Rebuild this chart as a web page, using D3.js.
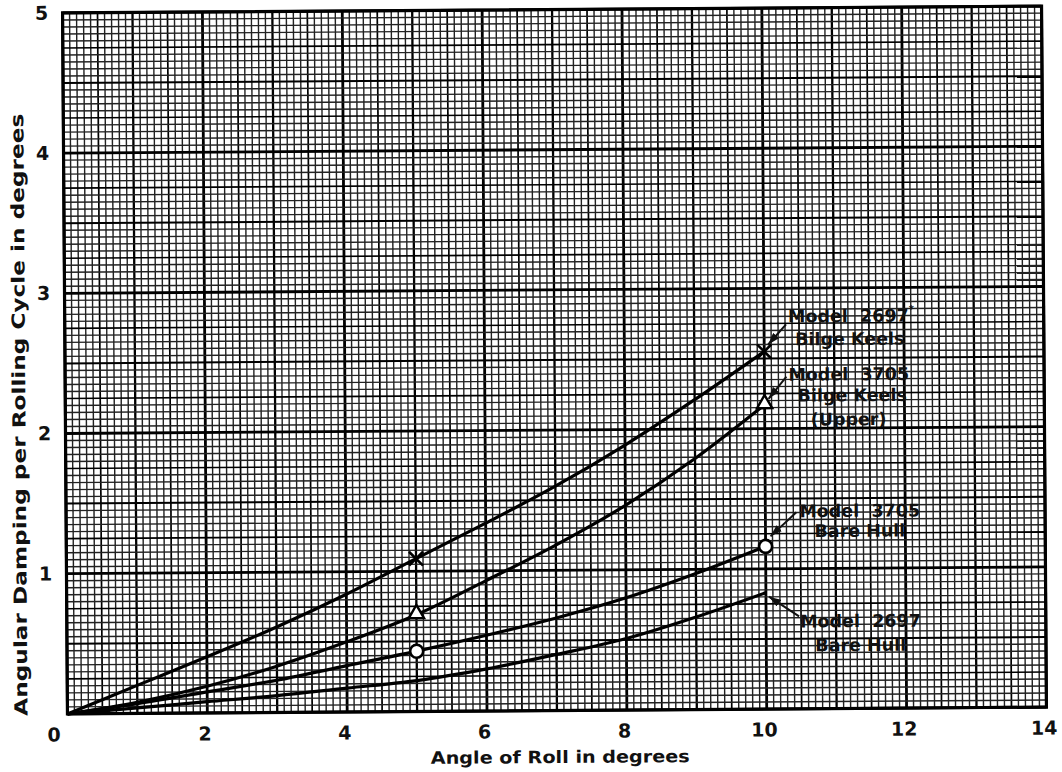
<!DOCTYPE html>
<html>
<head>
<meta charset="utf-8">
<script src="https://cdn.jsdelivr.net/npm/d3@7"></script>
<style>
  body { margin: 0; background: #fff; }
  svg text { font-family: "DejaVu Sans", sans-serif; font-weight: bold; fill: #111; }
</style>
</head>
<body>
<svg id="chart" width="1062" height="772"></svg>
<script>
// values
const rollAngles = [0, 1, 2, 3, 4, 5, 6, 7, 8, 9, 10];
const keels2697 = [0, 0.2, 0.4, 0.61, 0.84, 1.09, 1.34, 1.6, 1.89, 2.21, 2.55];
const keelsUpper3705 = [0, 0.08, 0.19, 0.33, 0.5, 0.69, 0.93, 1.18, 1.46, 1.79, 2.17];
const bareHull3705 = [0, 0.07, 0.15, 0.23, 0.33, 0.43, 0.54, 0.66, 0.8, 0.97, 1.16];
const bareHull2697 = [0, 0.04, 0.08, 0.12, 0.17, 0.22, 0.3, 0.4, 0.51, 0.66, 0.83];

const xTicks = [0, 2, 4, 6, 8, 10, 12, 14];
const yTicks = [1, 2, 3, 4, 5];

const label2697Keels = ["Model  2697", "Bilge Keels"];
const label3705Keels = ["Model  3705", "Bilge Keels", "(Upper)"];
const label3705Bare = ["Model  3705", "Bare Hull"];
const label2697Bare = ["Model  2697", "Bare Hull"];

const series = [
    { values: keels2697, marker: "cross", markAt: [5, 10] },
    { values: keelsUpper3705, marker: "triangle", markAt: [5, 10] },
    { values: bareHull3705, marker: "circle", markAt: [5, 10] },
    { values: bareHull2697, marker: "plus", markAt: [7] }
];

// label placement, in px from the point at 10 degrees
const annotations = [
    { lines: label2697Keels, s: 0, at: [[24, -29], [31, -6]], tail: [22, -27], tip: [4, -7], star: true },
    { lines: label3705Keels, s: 1, at: [[24, -24], [33, -3], [46, 21]], tail: [22, -28], tip: [4, -6] },
    { lines: label3705Bare, s: 2, at: [[34, -29], [49, -9]], tail: [31, -34], tip: [5, -10] },
    { lines: label2697Bare, s: 3, at: [[34, 35], [49, 59]], tail: [33, 24], tip: [3, 4] }
];

const svg = d3.select("#chart");
const plot = { left: 65, right: 1044, top: 9.5, bottom: 710.5 };
const cx = (plot.left + plot.right) / 2;
const cy = (plot.top + plot.bottom) / 2;

const x = d3.scaleLinear().domain([0, 14]).range([plot.left, plot.right]);
const y = d3.scaleLinear().domain([0, 5]).range([plot.bottom, plot.top]);

// the scan is slightly turned, so the whole sheet is too
const g = svg.append("g").attr("transform", `rotate(-0.4,${cx},${cy})`);

svg.append("defs").append("marker")
    .attr("id", "arrow")
    .attr("markerUnits", "userSpaceOnUse")
    .attr("viewBox", "0 0 12 8")
    .attr("refX", 12).attr("refY", 4)
    .attr("markerWidth", 12).attr("markerHeight", 8)
    .attr("orient", "auto")
    .append("path").attr("d", "M0,0 L12,4 L0,8 Z").attr("fill", "#111");

// graph paper: 0.1 in x, 0.05 in y
function xWeight(i) {
    if (i % 20 === 0) return 2.8;
    if (i % 10 === 0) return 2.3;
    if (i % 5 === 0) return 1.7;
    return 1.4;
}
function yWeight(i) {
    if (i % 20 === 0) return 2.8;
    if (i % 10 === 0) return 2.0;
    if (i % 5 === 0) return 1.6;
    return 1.4;
}

const grid = g.append("g");
grid.selectAll("line.v")
    .data(d3.range(0, 141))
    .join("line")
    .attr("class", "v")
    .attr("x1", i => x(i / 10)).attr("x2", i => x(i / 10))
    .attr("y1", y(0)).attr("y2", y(5))
    .attr("stroke", i => xWeight(i) > 1.5 ? "#000" : "#222")
    .attr("stroke-width", xWeight);

grid.selectAll("line.h")
    .data(d3.range(0, 101))
    .join("line")
    .attr("class", "h")
    .attr("y1", i => y(i / 20)).attr("y2", i => y(i / 20))
    .attr("x1", x(0)).attr("x2", x(14))
    .attr("stroke", i => yWeight(i) > 1.5 ? "#000" : "#222")
    .attr("stroke-width", yWeight);

g.append("rect")
    .attr("x", x(0)).attr("y", y(5))
    .attr("width", x(14) - x(0)).attr("height", y(0) - y(5))
    .attr("fill", "none").attr("stroke", "#000").attr("stroke-width", 3.2);

// axes
const xAxis = g.append("g")
    .attr("transform", `translate(0,${plot.bottom})`)
    .call(d3.axisBottom(x).tickValues(xTicks).tickFormat(d3.format("d")).tickSize(0).tickPadding(14));
xAxis.select(".domain").remove();
xAxis.attr("font-family", null).attr("font-size", null);
xAxis.selectAll("text")
    .attr("font-size", 19)
    .attr("dx", d => d === 0 ? -14 : -3);

const yAxis = g.append("g")
    .attr("transform", `translate(${plot.left},0)`)
    .call(d3.axisLeft(y).tickValues(yTicks).tickFormat(d3.format("d")).tickSize(0));
yAxis.select(".domain").remove();
yAxis.attr("font-family", null).attr("font-size", null);
yAxis.selectAll("text")
    .attr("font-size", 19)
    .attr("text-anchor", "middle")
    .attr("x", -21);

g.append("text")
    .attr("x", 557.5).attr("y", 763)
    .attr("text-anchor", "middle")
    .attr("font-size", 17)
    .attr("textLength", 259)
    .attr("lengthAdjust", "spacingAndGlyphs")
    .text("Angle of Roll in degrees");

g.append("text")
    .attr("transform", "translate(25,411) rotate(-90)")
    .attr("text-anchor", "middle")
    .attr("font-size", 18)
    .attr("textLength", 602)
    .attr("lengthAdjust", "spacingAndGlyphs")
    .text("Angular Damping per Rolling Cycle in degrees");

// curves
const line = d3.line()
    .x((d, i) => x(rollAngles[i]))
    .y(d => y(d))
    .curve(d3.curveMonotoneX);

g.selectAll("path.curve")
    .data(series)
    .join("path")
    .attr("class", "curve")
    .attr("d", d => line(d.values))
    .attr("fill", "none")
    .attr("stroke", "#000")
    .attr("stroke-width", 3.2);

// point markers
series.forEach(s => {
    s.markAt.forEach(a => {
        const px = x(a);
        const py = y(s.values[rollAngles.indexOf(a)]);
        if (s.marker === "cross") {
            g.append("path")
                .attr("d", `M${px - 7},${py - 7}L${px + 7},${py + 7}M${px + 7},${py - 7}L${px - 7},${py + 7}`)
                .attr("stroke", "#000").attr("stroke-width", 2.6);
        } else if (s.marker === "plus") {
            g.append("path")
                .attr("d", `M${px - 6},${py}L${px + 6},${py}M${px},${py - 5}L${px},${py + 5}`)
                .attr("stroke", "#000").attr("stroke-width", 2.2);
        } else if (s.marker === "circle") {
            g.append("circle")
                .attr("cx", px).attr("cy", py).attr("r", 6.5)
                .attr("fill", "#fff").attr("stroke", "#000").attr("stroke-width", 2.6);
        } else {
            g.append("path")
                .attr("transform", `translate(${px},${py - 1})`)
                .attr("d", d3.symbol(d3.symbolTriangle, 100)())
                .attr("fill", "#fff").attr("stroke", "#000").attr("stroke-width", 2.4);
        }
    });
});

// labels with arrows
annotations.forEach(a => {
    const vals = series[a.s].values;
    const px = x(10);
    const py = y(vals[rollAngles.indexOf(10)]);
    g.append("line")
        .attr("x1", px + a.tail[0]).attr("y1", py + a.tail[1])
        .attr("x2", px + a.tip[0]).attr("y2", py + a.tip[1])
        .attr("stroke", "#111").attr("stroke-width", 2)
        .attr("marker-end", "url(#arrow)");
    a.lines.forEach((t, i) => {
        const txt = g.append("text")
            .attr("x", px + a.at[i][0]).attr("y", py + a.at[i][1])
            .attr("font-size", 17.5)
            .style("white-space", "pre")
            .text(t);
        if (i === 0 && a.star) {
            txt.append("tspan").attr("font-size", 10).attr("dy", -9).text("*");
        }
    });
});
</script>
</body>
</html>
